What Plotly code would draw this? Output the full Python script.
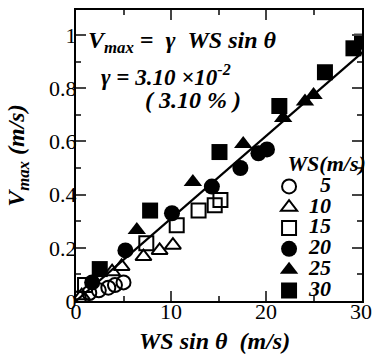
import plotly.graph_objects as go

# Data: WS sin(theta) (m/s) vs Vmax (m/s), by wind speed WS
ws5_x = [0.3, 1.4, 2.4, 3.4, 4.1, 5.0]
ws5_y = [0.01, 0.03, 0.04, 0.05, 0.06, 0.07]

ws10_x = [0.6, 3.8, 4.8, 7.1, 8.8, 10.2]
ws10_y = [0.02, 0.11, 0.13, 0.167, 0.19, 0.21]

ws15_x = [0.95, 7.4, 10.6, 12.9, 14.6, 15.2]
ws15_y = [0.06, 0.217, 0.285, 0.34, 0.36, 0.38]

ws20_x = [1.7, 5.2, 10.1, 14.3, 17.3, 19.2, 20.1]
ws20_y = [0.07, 0.19, 0.33, 0.43, 0.50, 0.555, 0.57]

ws25_x = [6.4, 12.3, 17.6, 21.8, 24.1, 25.0]
ws25_y = [0.267, 0.447, 0.59, 0.688, 0.75, 0.774]

ws30_x = [2.5, 7.8, 15.1, 21.4, 26.2, 29.2, 30.1]
ws30_y = [0.12, 0.34, 0.56, 0.733, 0.86, 0.95, 0.975]

legend_labels = ["&nbsp;&nbsp;5", "10", "15", "20", "25", "30"]
x_ticks = [0, 10, 20, 30]
y_ticks = [0, 0.2, 0.4, 0.6, 0.8, 1]

fit_x = [0, 30.3]
gamma = 0.031

symbols = ["circle-open", "triangle-up-open", "square-open",
           "circle", "triangle-up", "square"]
xs_all = [ws5_x, ws10_x, ws15_x, ws20_x, ws25_x, ws30_x]
ys_all = [ws5_y, ws10_y, ws15_y, ws20_y, ws25_y, ws30_y]

serif = "Liberation Serif"

fig = go.Figure()
fig.add_trace(go.Scatter(x=fit_x, y=[gamma * v for v in fit_x], mode="lines",
                         line=dict(color="black", width=2.2), showlegend=False,
                         hoverinfo="skip"))

for lab, xs, ys, sym in zip(legend_labels, xs_all, ys_all, symbols):
    open_ = sym.endswith("open")
    fig.add_trace(go.Scatter(
        x=xs, y=ys, mode="markers",
        name='<span style="font-size:22px">' + lab + "</span>",
        marker=dict(symbol=sym, size=14 if open_ else 16, color="black",
                    line=dict(color="black", width=2 if open_ else 0)),
    ))

fig.update_layout(
    width=373, height=360,
    margin=dict(l=76, r=11, t=10, b=59, autoexpand=False),
    plot_bgcolor="white", paper_bgcolor="white",
    font=dict(family=serif, color="black", size=18),
    showlegend=True,
    legend=dict(
        x=0.675, y=0.545, xanchor="left", yanchor="top",
        bgcolor="rgba(0,0,0,0)", borderwidth=0,
        font=dict(family=serif, size=13.7, weight="bold", style="italic"),
        title=dict(text="&nbsp;&nbsp;&nbsp;WS(m/s)", font=dict(family=serif, size=22,
                                             weight="bold", style="italic")),
        tracegroupgap=0, itemwidth=30,
    ),
    xaxis=dict(
        range=[0, 30.1], tickvals=x_ticks, ticks="inside", ticklen=10,
        tickwidth=1.5, showline=True, linecolor="black", linewidth=2,
        mirror="allticks", showgrid=False, zeroline=False, automargin=False,
        tickfont=dict(family=serif, size=22), ticklabelstandoff=-10,
        minor=dict(dtick=5, ticks="inside", ticklen=5, tickwidth=1.5, showgrid=False),
    ),
    yaxis=dict(
        range=[0, 1.094], tickvals=y_ticks, ticks="inside",
        ticklen=10, tickwidth=1.5, showline=True, linecolor="black", linewidth=2,
        mirror="allticks", showgrid=False, zeroline=False, automargin=False,
        tickfont=dict(family=serif, size=22), ticklabelstandoff=-7,
        minor=dict(dtick=0.1, ticks="inside", ticklen=5, tickwidth=1.5, showgrid=False),
    ),
)

title_font = dict(family=serif, size=24, weight="bold", style="italic", color="black")
fig.add_annotation(x=0.485, y=-0.137, xref="paper", yref="paper", xanchor="center",
                   yanchor="middle", showarrow=False, font=title_font,
                   text="WS sin θ  (m/s)")
fig.add_annotation(x=-0.205, y=0.5, xref="paper", yref="paper", xanchor="center",
                   yanchor="middle", showarrow=False, font=title_font,
                   textangle=-90, text="V<sub>max</sub> (m/s)")

ann_font = dict(family=serif, size=24, weight="bold", style="italic", color="black")
ann_font2 = dict(family=serif, size=23, weight="bold", style="italic", color="black")
fig.add_annotation(x=0.035, y=0.89, xref="paper", yref="paper", xanchor="left",
                   yanchor="middle", showarrow=False, font=ann_font,
                   text="V<sub>max</sub> =  γ  WS sin θ")
fig.add_annotation(x=0.08, y=0.775, xref="paper", yref="paper", xanchor="left",
                   yanchor="middle", showarrow=False, font=ann_font2,
                   text="γ = 3.10 ×10<sup>-2</sup>")
fig.add_annotation(x=0.234, y=0.69, xref="paper", yref="paper", xanchor="left",
                   yanchor="middle", showarrow=False, font=ann_font,
                   text="( 3.10 % )")

fig.write_html("out.html", config={"displayModeBar": False},
               post_script="document.body.style.margin='0';"
                           "document.body.style.padding='0';")
